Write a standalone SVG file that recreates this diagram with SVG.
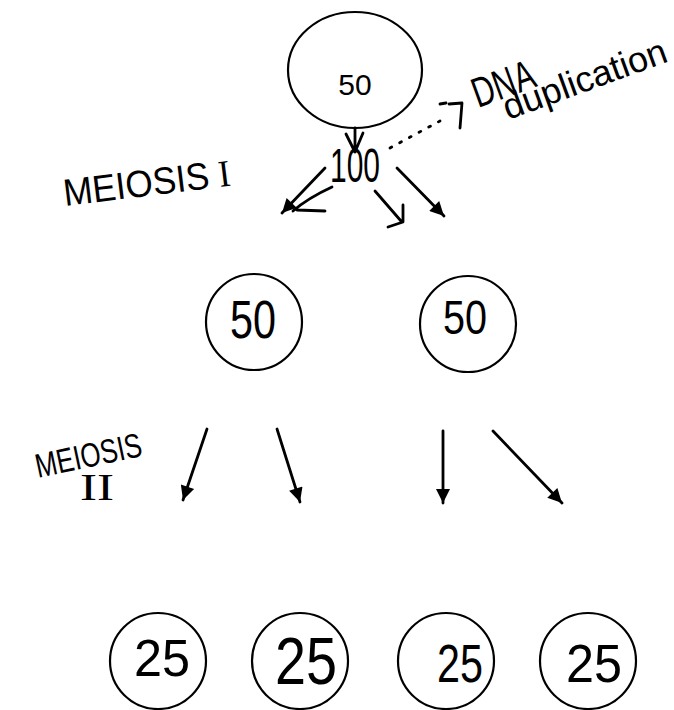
<svg xmlns="http://www.w3.org/2000/svg" width="674" height="710" viewBox="0 0 674 710">
<style>
.node{fill:none;stroke:#000;stroke-width:2.2}
.hand{font-family:"Liberation Sans","DejaVu Sans",sans-serif;fill:#000}
.serif{font-family:"Liberation Serif","DejaVu Serif",serif}
.conn{stroke:#000;stroke-width:2.8;fill:none;stroke-linecap:round;stroke-linejoin:round}
</style>
<defs>
<marker id="ah" viewBox="0 0 10 10" refX="10" refY="5" markerWidth="18" markerHeight="14" markerUnits="userSpaceOnUse" orient="auto"><path d="M0,0 L10,5 L0,10 z" fill="#000"/></marker>
</defs>
<rect width="674" height="710" fill="#fff"/>
<g id="connectors">
<path class="conn" d="M355,128 L355,150 M346,134 L355,152 L363,133"/>
<line class="conn" x1="390" y1="148" x2="440" y2="121" stroke-dasharray="2 9" stroke-width="3"/>
<path class="conn" d="M440,104 L446,103 M449,104 L462,103 L460,128"/>
<line class="conn" x1="325" y1="168" x2="282" y2="213" marker-end="url(#ah)"/>
<path class="conn" d="M332,187 Q308,198 293,211 M297,210 L325,211"/>
<path class="conn" d="M375,191 L401,221 M403,205 L403,222 L388,227"/>
<line class="conn" x1="397" y1="168" x2="444" y2="216" marker-end="url(#ah)"/>
<line class="conn" x1="207" y1="429" x2="183" y2="500" marker-end="url(#ah)"/>
<line class="conn" x1="277" y1="429" x2="300" y2="502" marker-end="url(#ah)"/>
<line class="conn" x1="443" y1="431" x2="443" y2="503" marker-end="url(#ah)"/>
<line class="conn" x1="493" y1="431" x2="562" y2="503" marker-end="url(#ah)"/>
</g>
<g id="n_top">
<ellipse class="node" cx="355" cy="70" rx="67" ry="58"/>
<text x="355" y="95" font-family="Liberation Sans, Arial, sans-serif" font-size="30" text-anchor="middle">50</text>
</g>
<g id="n_100">
<text class="hand" x="330" y="182" font-size="48" textLength="50" lengthAdjust="spacingAndGlyphs">100</text>
</g>
<g id="lbl_dna">
<text class="hand" x="478" y="108" font-size="42" textLength="64" lengthAdjust="spacingAndGlyphs" transform="rotate(-20 478 108)">DNA</text>
<text class="hand" x="508" y="120" font-size="36" textLength="172" lengthAdjust="spacingAndGlyphs" transform="rotate(-20 508 120)">duplication</text>
</g>
<g id="lbl_m1">
<text class="hand" x="65" y="206" font-size="38" textLength="168" lengthAdjust="spacingAndGlyphs" transform="rotate(-7 65 206)">MEIOSIS <tspan class="serif">I</tspan></text>
</g>
<g id="lbl_m2">
<text class="hand" x="38" y="478" font-size="34" textLength="108" lengthAdjust="spacingAndGlyphs" transform="rotate(-12 38 478)">MEIOSIS</text>
<text class="serif" x="80" y="500" font-size="38" textLength="34" lengthAdjust="spacingAndGlyphs">II</text>
</g>
<g id="n_mid_l">
<circle class="node" cx="254" cy="322" r="48"/>
<text class="hand" x="253" y="338" font-size="54" textLength="46" lengthAdjust="spacingAndGlyphs" text-anchor="middle">50</text>
</g>
<g id="n_mid_r">
<circle class="node" cx="468" cy="324" r="48"/>
<text class="hand" x="465" y="334" font-size="48" textLength="44" lengthAdjust="spacingAndGlyphs" text-anchor="middle">50</text>
</g>
<g id="n_b1">
<circle class="node" cx="158" cy="661" r="48"/>
<text class="hand" x="162" y="676" font-size="52" textLength="56" lengthAdjust="spacingAndGlyphs" text-anchor="middle">25</text>
</g>
<g id="n_b2">
<circle class="node" cx="300" cy="661" r="48"/>
<text class="hand" x="306" y="684" font-size="66" textLength="62" lengthAdjust="spacingAndGlyphs" text-anchor="middle">25</text>
</g>
<g id="n_b3">
<circle class="node" cx="446" cy="661" r="48"/>
<text class="hand" x="460" y="682" font-size="54" textLength="46" lengthAdjust="spacingAndGlyphs" text-anchor="middle">25</text>
</g>
<g id="n_b4">
<circle class="node" cx="588" cy="661" r="48"/>
<text class="hand" x="594" y="682" font-size="54" textLength="56" lengthAdjust="spacingAndGlyphs" text-anchor="middle">25</text>
</g>
</svg>
